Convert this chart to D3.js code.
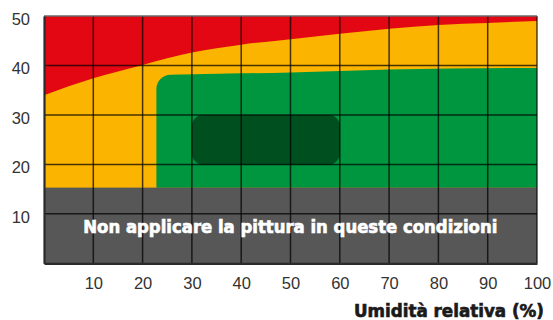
<!DOCTYPE html>
<html>
<head>
<meta charset="utf-8">
<script src="https://cdn.jsdelivr.net/npm/d3@7"></script>
<style>
  html, body { margin: 0; padding: 0; background: #fff; }
  svg { display: block; }
</style>
</head>
<body>
<svg id="chart" width="553" height="320"></svg>
<script>
// Application window for the paint: temperature (°C) against relative humidity (%)
const humidityTicks = [10, 20, 30, 40, 50, 60, 70, 80, 90, 100];
const temperatureTicks = [10, 20, 30, 40, 50];

// Upper limit: above this curve the conditions are too hot
const limitHumidity = [0, 10, 20, 30, 40, 50, 60, 70, 80, 90, 100];
const limitTemperature = [34.0, 37.4, 40.1, 42.6, 44.2, 45.3, 46.4, 47.4, 48.2, 48.6, 49.0];

// Recommended zone (green): left edge and upper edge
const recommendedMinHumidity = 22.8;
const recommendedTopHumidity = [22.8, 40, 50, 60, 70, 100];
const recommendedTopTemperature = [38.1, 38.4, 38.6, 38.9, 39.2, 39.5];

// Optimal zone (dark green)
const optimalHumidity = [30, 60];
const optimalTemperature = [20, 30];

// Below this temperature the paint must not be applied
const minTemperature = 15.3;

const bandLabel = "Non applicare la pittura in queste condizioni";
const xTitle = "Umidità relativa (%)";

const colors = {
  red: "#e30613",
  yellow: "#fbb400",
  green: "#009640",
  darkGreen: "#00501f",
  gray: "#575757"
};

const svg = d3.select("#chart");
const x = d3.scaleLinear().domain([0, 100]).range([44, 537]);
const y = d3.scaleLinear().domain([0, 50]).range([263.3, 16]);

const plot = svg.append("g");

// Too hot: whole plot background
plot.append("rect")
  .attr("x", x(0)).attr("y", y(50))
  .attr("width", x(100) - x(0)).attr("height", y(0) - y(50))
  .attr("fill", colors.red);

// Acceptable zone under the upper limit curve
const limitPoints = limitHumidity.map((h, i) => [h, limitTemperature[i]]);
const area = d3.area()
  .x(d => x(d[0]))
  .y0(y(0))
  .y1(d => y(d[1]))
  .curve(d3.curveMonotoneX);
plot.append("path")
  .datum(limitPoints)
  .attr("d", area)
  .attr("fill", colors.yellow);

// Recommended zone with a rounded upper-left corner
const r = 14;
const topPts = recommendedTopHumidity.map((h, i) => [x(h), y(recommendedTopTemperature[i])]);
const gp = d3.path();
gp.moveTo(x(recommendedMinHumidity), y(minTemperature));
gp.lineTo(topPts[0][0], topPts[0][1] + r);
gp.bezierCurveTo(topPts[0][0], topPts[0][1] + r * 0.45, topPts[0][0] + r * 0.45, topPts[0][1], topPts[0][0] + r, topPts[0][1] - 0.1);
const topLine = d3.line().curve(d3.curveMonotoneX);
const restTop = [[topPts[0][0] + r, topPts[0][1] - 0.1]].concat(topPts.slice(1));
let green = gp.toString() + topLine(restTop).replace(/^M/, "L");
green += "L" + x(100) + "," + y(minTemperature) + "Z";
plot.append("path").attr("d", green).attr("fill", colors.green);

// Optimal zone
plot.append("rect")
  .attr("x", x(optimalHumidity[0]))
  .attr("y", y(optimalTemperature[1]))
  .attr("width", x(optimalHumidity[1]) - x(optimalHumidity[0]))
  .attr("height", y(optimalTemperature[0]) - y(optimalTemperature[1]))
  .attr("rx", 11).attr("ry", 11)
  .attr("fill", colors.darkGreen);

// Too cold band
plot.append("rect")
  .attr("x", x(0)).attr("y", y(minTemperature))
  .attr("width", x(100) - x(0)).attr("height", y(0) - y(minTemperature))
  .attr("fill", colors.gray);

// Grid lines
const grid = svg.append("g").attr("stroke", "rgba(0,0,0,0.72)").attr("stroke-width", 1.5);
grid.selectAll("line.v")
  .data(humidityTicks)
  .join("line")
  .attr("class", "v")
  .attr("x1", d => x(d)).attr("x2", d => x(d))
  .attr("y1", y(50)).attr("y2", y(0));
grid.selectAll("line.h")
  .data(temperatureTicks.filter(t => t < 50))
  .join("line")
  .attr("class", "h")
  .attr("x1", x(0)).attr("x2", x(100))
  .attr("y1", d => y(d)).attr("y2", d => y(d));
// Top edge
svg.append("line")
  .attr("x1", x(0)).attr("x2", x(100))
  .attr("y1", y(50)).attr("y2", y(50))
  .attr("stroke", "#6a6a6a").attr("stroke-width", 1.5);

// Axes
const tickFont = "'Liberation Sans', Arial, sans-serif";
const xAxis = svg.append("g")
  .attr("transform", `translate(0,${y(0)})`)
  .call(d3.axisBottom(x).tickValues(humidityTicks).tickSize(0).tickPadding(14).tickSizeOuter(0));
xAxis.select(".domain").attr("stroke", "#2b2b2b").attr("stroke-width", 2.2);
xAxis.selectAll(".tick text")
  .attr("font-family", tickFont).attr("font-size", 16.5).attr("fill", "#333");

const yAxis = svg.append("g")
  .attr("transform", `translate(${x(0)},0)`)
  .call(d3.axisLeft(y).tickValues(temperatureTicks).tickSize(0).tickPadding(14).tickSizeOuter(0));
yAxis.select(".domain").attr("stroke", "#2b2b2b").attr("stroke-width", 2.2);
yAxis.selectAll(".tick text")
  .attr("font-family", tickFont).attr("font-size", 16.5).attr("fill", "#333")
  .attr("dy", "0.5em");

// Labels (a thin outline in the fill colour gives a heavier weight)
const boldFont = "'DejaVu Sans Condensed', 'Liberation Sans Narrow', 'Liberation Sans', sans-serif";
svg.append("text")
  .attr("x", (83.3 + 497.3) / 2).attr("y", 233.3)
  .attr("text-anchor", "middle")
  .attr("font-family", boldFont).attr("font-weight", "bold").attr("font-size", 17.5)
  .attr("fill", "#fff").attr("stroke", "#fff").attr("stroke-width", 0.6)
  .attr("textLength", 414).attr("lengthAdjust", "spacingAndGlyphs")
  .text(bandLabel);

svg.append("text")
  .attr("x", 544).attr("y", 316.5)
  .attr("text-anchor", "end")
  .attr("font-family", boldFont).attr("font-weight", "bold").attr("font-size", 17.5)
  .attr("fill", "#1a1a1a").attr("stroke", "#1a1a1a").attr("stroke-width", 0.6)
  .attr("textLength", 190).attr("lengthAdjust", "spacingAndGlyphs")
  .text(xTitle);
</script>
</body>
</html>
